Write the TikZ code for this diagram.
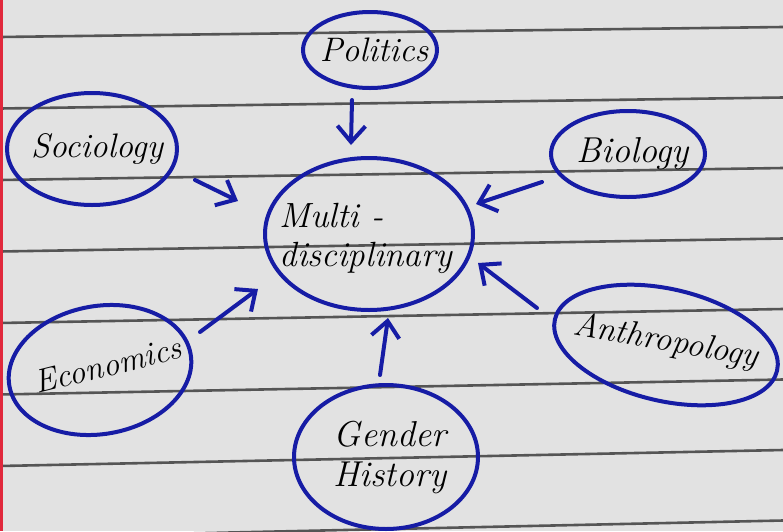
\documentclass[tikz,border=0pt]{standalone}
\usepackage{tikz}
\usepackage{xcolor}
\usetikzlibrary{shapes.geometric,arrows.meta}
\definecolor{pen-blue}{RGB}{22,28,165}
\definecolor{paper}{RGB}{226,226,226}
\definecolor{ruling}{RGB}{85,85,85}
\definecolor{margin}{RGB}{225,40,60}
\tikzset{
    topic-bubble/.style = {draw=pen-blue, line width=2pt, ellipse, inner sep=0pt},
    topic-text/.style = {inner sep=0pt, align=center, font=\itshape\fontsize{#1}{#1}\selectfont},
    topic-text/.default = 17,
    hand-arrow/.style = {draw=pen-blue, line width=2pt, line cap=round, -{Straight Barb[length=8pt, width=14pt, line width=2pt]}},
}

\begin{document}
\begin{tikzpicture}[x=0.5pt, y=-0.5pt]
\useasboundingbox (0,0) rectangle (783,531);
\fill[paper] (0,0) rectangle (783,531);
\begin{scope}
\clip (0,0) rectangle (783,531);
% ruled lines of the page
\foreach \i in {0,...,7}
    \draw[ruling, line width=1.3pt] (0,{37+71.5*\i}) -- (783,{27+70.5*\i});
\draw[margin, line width=1.2pt] (1.5,0) -- (1.5,531);

% bubbles
\node[topic-bubble, minimum width=104pt, minimum height=76pt] (multi) at (369,234) {};
\node[topic-bubble, minimum width=67pt, minimum height=38pt] (politics) at (370,50) {};
\node[topic-bubble, minimum width=85pt, minimum height=56pt] (sociology) at (92,149) {};
\node[topic-bubble, minimum width=77pt, minimum height=43pt] (biology) at (628,154) {};
\node[topic-bubble, minimum width=92pt, minimum height=64pt, rotate=10] (economics) at (100,370) {};
\node[topic-bubble, minimum width=114pt, minimum height=56pt, rotate=-13] (anthro) at (666,345) {};
\node[topic-bubble, minimum width=92pt, minimum height=72pt] (gender) at (386,457) {};

% texts
\node[topic-text=17.5, align=left] (multi-text) at (366,238) {Multi -\\[2pt]disciplinary};
\node[topic-text=17] (politics-text) at (374,50) {Politics};
\node[topic-text=17] (sociology-text) at (97,149) {Sociology};
\node[topic-text=18] (biology-text) at (633,154) {Biology};
\node[topic-text=16.5, rotate=14] (economics-text) at (108,365) {Economics};
\node[topic-text=17, rotate=-10] (anthro-text) at (666,342) {Anthropology};
\node[topic-text=18] (gender-text) at (390,457) {Gender\\[2pt]History};

\draw[hand-arrow] (politics.center) ++(-18,50) -- (351,145);
\draw[hand-arrow] (sociology.center) ++(103,31) -- (238,201);
\draw[hand-arrow] (biology.center) ++(-86,28) -- (476,204);
\draw[hand-arrow] (economics.center) ++(100,-38) -- (258,289);
\draw[hand-arrow] (anthro.center) ++(-129,-37) -- (478,263);
\draw[hand-arrow] (gender.center) ++(-6,-82) -- (388,318);
\end{scope}
\end{tikzpicture}
\end{document}
